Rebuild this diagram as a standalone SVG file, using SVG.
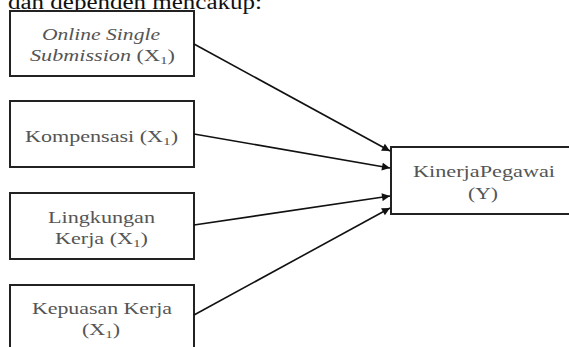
<svg xmlns="http://www.w3.org/2000/svg" width="569" height="347" viewBox="0 0 569 347">
<style>
.box{fill:#fff;stroke:#222;stroke-width:2}
.t{font-family:"Liberation Serif","Times New Roman",serif;font-size:16px;fill:#555;text-anchor:start}
.i{font-style:italic}
.c{stroke:#111;stroke-width:1.6;fill:none;marker-end:url(#ah)}
</style>
<defs>
<marker id="ah" viewBox="0 0 10 10" refX="10" refY="5" markerWidth="6" markerHeight="5" orient="auto" markerUnits="strokeWidth"><path d="M0,0L10,5L0,10z" fill="#111"/></marker>
</defs>
<rect width="569" height="347" fill="#fff"/>
<text x="8" y="9" font-family="Liberation Serif,serif" font-size="20" fill="#111" textLength="254" lengthAdjust="spacingAndGlyphs">dan dependen mencakup:</text>
<g id="n1">
<rect class="box" x="10" y="11" width="184" height="65"/>
<text class="t i" x="42" y="40" textLength="118" lengthAdjust="spacingAndGlyphs">Online Single</text>
<text class="t" x="30" y="61" textLength="145" lengthAdjust="spacingAndGlyphs"><tspan class="i">Submission</tspan> (X<tspan font-size="11" dy="3">1</tspan><tspan dy="-3">)</tspan></text>
</g>
<g id="n2">
<rect class="box" x="10" y="101" width="184" height="66"/>
<text class="t" x="25" y="142" textLength="153" lengthAdjust="spacingAndGlyphs">Kompensasi (X<tspan font-size="11" dy="3">1</tspan><tspan dy="-3">)</tspan></text>
</g>
<g id="n3">
<rect class="box" x="10" y="193" width="184" height="66"/>
<text class="t" x="48" y="223" textLength="107" lengthAdjust="spacingAndGlyphs">Lingkungan</text>
<text class="t" x="55" y="244" textLength="93" lengthAdjust="spacingAndGlyphs">Kerja (X<tspan font-size="11" dy="3">1</tspan><tspan dy="-3">)</tspan></text>
</g>
<g id="n4">
<rect class="box" x="10" y="285" width="184" height="80"/>
<text class="t" x="32" y="314" textLength="140" lengthAdjust="spacingAndGlyphs">Kepuasan Kerja</text>
<text class="t" x="82" y="335" textLength="38" lengthAdjust="spacingAndGlyphs">(X<tspan font-size="11" dy="3">1</tspan><tspan dy="-3">)</tspan></text>
</g>
<g id="n5">
<rect class="box" x="391" y="147" width="190" height="67"/>
<text class="t" x="413" y="177" textLength="142" lengthAdjust="spacingAndGlyphs">KinerjaPegawai</text>
<text class="t" x="468" y="199" textLength="30" lengthAdjust="spacingAndGlyphs">(Y)</text>
</g>
<g id="connectors">
<line class="c" x1="194" y1="44" x2="390" y2="151"/>
<line class="c" x1="194" y1="134" x2="390" y2="168"/>
<line class="c" x1="194" y1="225" x2="390" y2="196"/>
<line class="c" x1="194" y1="315" x2="390" y2="208"/>
</g>
</svg>
